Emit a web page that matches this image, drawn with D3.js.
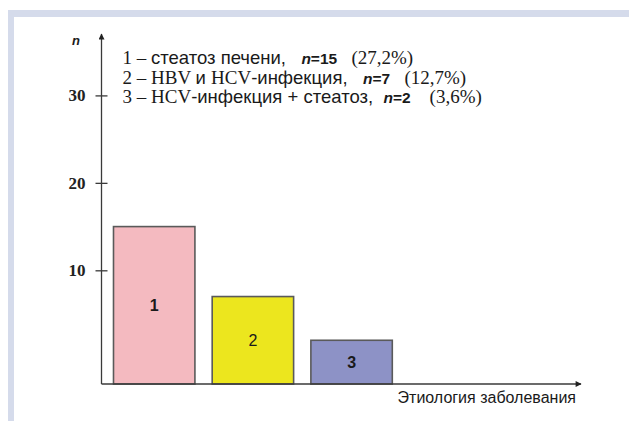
<!DOCTYPE html>
<html>
<head>
<meta charset="utf-8">
<script src="https://cdn.jsdelivr.net/npm/d3@7"></script>
<style>
  html, body { margin: 0; padding: 0; background: #ffffff; }
  svg { display: block; }
</style>
</head>
<body>
<svg id="chart" width="629" height="421"></svg>
<script>
// Patient groups by etiology
const categories = ["1", "2", "3"];
const counts = [15, 7, 2];
const barColors = ["#f4bac0", "#ece61e", "#8d92c6"];
const yTicks = [10, 20, 30];

// Legend lines: each is a list of [text, kind] runs
const legendLines = [
  [["1 – ", "serif"], ["стеатоз печени,", "sans"], ["   ", "sans"], ["n", "italic"], ["=15", "num"], ["   (27,2%)", "serif"]],
  [["2 – HBV ", "serif"], ["и ", "sans"], ["HCV", "serif"], ["-инфекция,", "sans"], ["   ", "sans"], ["n", "italic"], ["=7", "num"], ["   (12,7%)", "serif"]],
  [["3 – HCV", "serif"], ["-инфекция + стеатоз,", "sans"], ["  ", "sans"], ["n", "italic"], ["=2", "num"], ["    (3,6%)", "serif"]]
];
const xTitle = "Этиология заболевания";
const yTitle = "n";

const svg = d3.select("#chart");
const SANS = "'Liberation Sans', Arial, sans-serif";
const SERIF = "'Liberation Serif', 'Times New Roman', serif";

// Page frame: light band along the top and left edges
svg.append("rect").attr("x", 8).attr("y", 10).attr("width", 621).attr("height", 7).attr("fill", "#d5dbeb");
svg.append("rect").attr("x", 8).attr("y", 10).attr("width", 6).attr("height", 411).attr("fill", "#d5dbeb");

// Scales
const axisX = 101.5;
const y = d3.scaleLinear().domain([-3, 30]).range([384, 95.4]);
const baseY = y(-3);
const x = d3.scaleBand().domain(categories).range([113.5, 392.3]).paddingInner(0.175).paddingOuter(0);

const axisColor = "#3a3a3a";

// Arrowheads
const defs = svg.append("defs");
defs.append("marker")
  .attr("id", "arrow")
  .attr("viewBox", "0 0 10 10")
  .attr("refX", 9).attr("refY", 5)
  .attr("markerWidth", 7).attr("markerHeight", 6)
  .attr("markerUnits", "userSpaceOnUse")
  .attr("orient", "auto")
  .append("path").attr("d", "M0,0 L10,5 L0,10 Z").attr("fill", "#222");

// Bars
const bars = svg.append("g");
bars.selectAll("rect")
  .data(counts)
  .join("rect")
  .attr("x", (d, i) => x(categories[i]))
  .attr("y", d => y(d))
  .attr("width", x.bandwidth())
  .attr("height", d => baseY - y(d))
  .attr("fill", (d, i) => barColors[i])
  .attr("stroke", "#5a5a5a")
  .attr("stroke-width", 1.6);

bars.selectAll("text")
  .data(counts)
  .join("text")
  .attr("x", (d, i) => x(categories[i]) + x.bandwidth() / 2)
  .attr("y", d => (y(d) + baseY) / 2)
  .attr("dy", "0.36em")
  .attr("text-anchor", "middle")
  .attr("font-family", SANS)
  .attr("font-size", 16)
  .attr("font-weight", (d, i) => i === 1 ? 400 : 700)
  .attr("fill", "#1a1a1a")
  .text((d, i) => categories[i]);

// Y axis with ticks crossing the line
const yAxis = d3.axisLeft(y).tickValues(yTicks).tickSize(0).tickPadding(16).tickFormat(d3.format("d"));
const gy = svg.append("g").attr("transform", `translate(${axisX},0)`).call(yAxis);
gy.select(".domain").remove();
gy.selectAll(".tick text")
  .attr("font-family", SERIF)
  .attr("font-weight", 700)
  .attr("font-size", 17)
  .attr("fill", "#222");
gy.selectAll(".tick").append("line")
  .attr("x1", -6).attr("x2", 6)
  .attr("stroke", axisColor).attr("stroke-width", 1.3);

svg.append("line")
  .attr("x1", axisX).attr("x2", axisX)
  .attr("y1", baseY).attr("y2", 34)
  .attr("stroke", axisColor).attr("stroke-width", 1.3)
  .attr("marker-end", "url(#arrow)");

// X axis
svg.append("line")
  .attr("x1", axisX).attr("x2", 581)
  .attr("y1", baseY).attr("y2", baseY)
  .attr("stroke", axisColor).attr("stroke-width", 1.3)
  .attr("marker-end", "url(#arrow)");

svg.append("text")
  .attr("x", 576).attr("y", 402.5)
  .attr("text-anchor", "end")
  .attr("font-family", SANS)
  .attr("font-size", 16)
  .attr("fill", "#1a1a1a")
  .text(xTitle);

svg.append("text")
  .attr("x", 76).attr("y", 45)
  .attr("text-anchor", "middle")
  .attr("font-family", SANS)
  .attr("font-style", "italic")
  .attr("font-weight", 700)
  .attr("font-size", 13)
  .attr("fill", "#1a1a1a")
  .text(yTitle);

// Legend text block
const legend = svg.append("g");
legendLines.forEach((runs, li) => {
  const t = legend.append("text")
    .attr("x", 122.5)
    .attr("y", 64 + li * 19.5)
    .attr("fill", "#1a1a1a")
    .attr("xml:space", "preserve")
    .style("white-space", "pre");
  runs.forEach(([txt, kind]) => {
    const s = t.append("tspan").text(txt);
    if (kind === "serif") {
      s.attr("font-family", SERIF).attr("font-size", 19);
    } else if (kind === "sans") {
      s.attr("font-family", SANS).attr("font-size", 18.5);
    } else if (kind === "italic") {
      s.attr("font-family", SANS).attr("font-size", 15.5).attr("font-style", "italic").attr("font-weight", 700);
    } else {
      s.attr("font-family", SANS).attr("font-size", 15.5).attr("font-weight", 700);
    }
  });
});
</script>
</body>
</html>
